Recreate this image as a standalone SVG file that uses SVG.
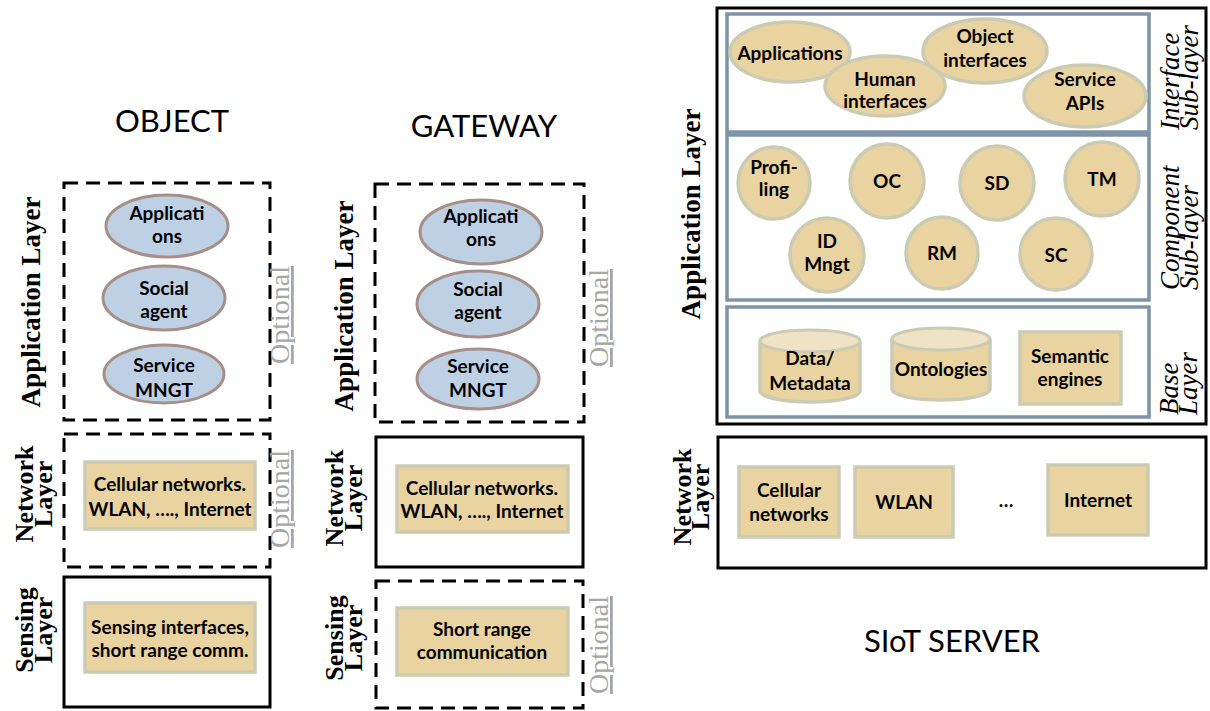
<svg xmlns="http://www.w3.org/2000/svg" width="1210" height="711" viewBox="0 0 1210 711">
<style>
.title{font-family:Lato,"Liberation Sans",sans-serif;font-size:31px;fill:#000;text-anchor:middle}
.lbl{font-family:Lato,"Liberation Sans",sans-serif;font-weight:bold;font-size:19px;fill:#000;text-anchor:middle}
.vl{font-family:"Liberation Serif",serif;font-weight:bold;font-size:27px;fill:#000;text-anchor:middle}
.vl2{font-family:"Liberation Serif",serif;font-weight:bold;font-size:26px;fill:#000;text-anchor:middle}
.it{font-family:"Liberation Serif",serif;font-style:italic;font-size:27px;fill:#000;text-anchor:start}
.opt{font-family:"Liberation Serif",serif;font-size:28px;fill:#a6a6a6;text-anchor:middle;text-decoration:underline}
.dash{fill:none;stroke:#000;stroke-width:3;stroke-dasharray:14 8}
.solid{fill:none;stroke:#000;stroke-width:3}
.sub{fill:none;stroke:#7d93a8;stroke-width:3.5}
.tan{fill:#e8d3a1;stroke:#cbcbb3;stroke-width:3.5}
.tantop{fill:#f0e2c4;stroke:#cbcbb3;stroke-width:3}
.blue{fill:#bdd0e4;stroke:#a58f88;stroke-width:3}
</style>

<g id="titles">
<text class="title" x="172" y="132">OBJECT</text>
<text class="title" x="484" y="137">GATEWAY</text>
<text class="title" x="952" y="652">SIoT SERVER</text>
</g>

<!-- OBJECT column -->
<g id="obj-app-layer">
<rect class="dash" x="64" y="183" width="206" height="237"/>
<text class="vl" transform="translate(40,302) rotate(-90)">Application Layer</text>
<text class="opt" transform="translate(289,315) rotate(-90)">Optional</text>
</g>
<g id="obj-applications">
<ellipse class="blue" cx="167" cy="226" rx="61" ry="31"/>
<text class="lbl" x="167" y="220">Applicati</text>
<text class="lbl" x="167" y="243">ons</text>
</g>
<g id="obj-social-agent">
<ellipse class="blue" cx="164" cy="298" rx="61" ry="32"/>
<text class="lbl" x="164" y="295">Social</text>
<text class="lbl" x="164" y="318">agent</text>
</g>
<g id="obj-service-mngt">
<ellipse class="blue" cx="164" cy="374" rx="60" ry="29"/>
<text class="lbl" x="164" y="372">Service</text>
<text class="lbl" x="164" y="397">MNGT</text>
</g>
<g id="obj-network-layer">
<rect class="dash" x="64" y="434" width="206" height="133"/>
<text class="vl2" transform="translate(33,494) rotate(-90)">Network</text>
<text class="vl2" transform="translate(52,494) rotate(-90)">Layer</text>
<text class="opt" transform="translate(289,499) rotate(-90)">Optional</text>
<rect class="tan" x="85" y="462" width="170" height="67"/>
<text class="lbl" x="170" y="491">Cellular networks.</text>
<text class="lbl" x="170" y="516">WLAN, …., Internet</text>
</g>
<g id="obj-sensing-layer">
<rect class="solid" x="64" y="577" width="206" height="130"/>
<text class="vl2" transform="translate(33,630) rotate(-90)">Sensing</text>
<text class="vl2" transform="translate(52,630) rotate(-90)">Layer</text>
<rect class="tan" x="85" y="603" width="170" height="69"/>
<text class="lbl" x="170" y="634">Sensing interfaces,</text>
<text class="lbl" x="170" y="657">short range comm.</text>
</g>

<!-- GATEWAY column -->
<g id="gw-app-layer">
<rect class="dash" x="375" y="184" width="209" height="238"/>
<text class="vl" transform="translate(353,306) rotate(-90)">Application Layer</text>
<text class="opt" transform="translate(608,318) rotate(-90)">Optional</text>
</g>
<g id="gw-applications">
<ellipse class="blue" cx="481" cy="232" rx="61" ry="32"/>
<text class="lbl" x="481" y="223">Applicati</text>
<text class="lbl" x="481" y="246">ons</text>
</g>
<g id="gw-social-agent">
<ellipse class="blue" cx="478" cy="304" rx="61" ry="33"/>
<text class="lbl" x="478" y="296">Social</text>
<text class="lbl" x="478" y="319">agent</text>
</g>
<g id="gw-service-mngt">
<ellipse class="blue" cx="478" cy="379" rx="61" ry="30"/>
<text class="lbl" x="478" y="373">Service</text>
<text class="lbl" x="478" y="397">MNGT</text>
</g>
<g id="gw-network-layer">
<rect class="solid" x="376" y="437" width="207" height="130"/>
<text class="vl2" transform="translate(343,498) rotate(-90)">Network</text>
<text class="vl2" transform="translate(362,498) rotate(-90)">Layer</text>
<rect class="tan" x="397" y="466" width="171" height="66"/>
<text class="lbl" x="482" y="495">Cellular networks.</text>
<text class="lbl" x="482" y="518">WLAN, …., Internet</text>
</g>
<g id="gw-sensing-layer">
<rect class="dash" x="376" y="581" width="207" height="127"/>
<text class="vl2" transform="translate(343,638) rotate(-90)">Sensing</text>
<text class="vl2" transform="translate(362,638) rotate(-90)">Layer</text>
<text class="opt" transform="translate(608,645) rotate(-90)">Optional</text>
<rect class="tan" x="397" y="608" width="171" height="67"/>
<text class="lbl" x="482" y="636">Short range</text>
<text class="lbl" x="482" y="659">communication</text>
</g>

<!-- SIoT SERVER -->
<g id="srv-app-layer">
<rect class="solid" x="717" y="8" width="489" height="416"/>
<text class="vl" transform="translate(700,214) rotate(-90)">Application Layer</text>
</g>
<g id="srv-interface-sublayer">
<rect class="sub" x="727" y="14" width="422" height="118"/>
<text class="it" transform="translate(1179,130) rotate(-90)">Interface</text>
<text class="it" transform="translate(1198,130) rotate(-90)">Sub-layer</text>
</g>
<g id="srv-applications">
<ellipse class="tan" cx="790" cy="52" rx="60" ry="30"/>
<text class="lbl" x="790" y="60">Applications</text>
</g>
<g id="srv-human-interfaces">
<ellipse class="tan" cx="885" cy="86" rx="60" ry="30"/>
<text class="lbl" x="885" y="86">Human</text>
<text class="lbl" x="885" y="108">interfaces</text>
</g>
<g id="srv-object-interfaces">
<ellipse class="tan" cx="985" cy="51" rx="62" ry="32"/>
<text class="lbl" x="985" y="43">Object</text>
<text class="lbl" x="985" y="67">interfaces</text>
</g>
<g id="srv-service-apis">
<ellipse class="tan" cx="1085" cy="96" rx="61" ry="31"/>
<text class="lbl" x="1085" y="86">Service</text>
<text class="lbl" x="1085" y="110">APIs</text>
</g>

<g id="srv-component-sublayer">
<rect class="sub" x="727" y="135" width="422" height="165"/>
<text class="it" transform="translate(1179,290) rotate(-90)">Component</text>
<text class="it" transform="translate(1198,290) rotate(-90)">Sub-layer</text>
</g>
<g id="srv-profiling">
<circle class="tan" cx="774" cy="183" r="36"/>
<text class="lbl" x="774" y="174">Profi-</text>
<text class="lbl" x="774" y="196">ling</text>
</g>
<g id="srv-oc">
<circle class="tan" cx="887" cy="181" r="37"/>
<text class="lbl" x="887" y="188">OC</text>
</g>
<g id="srv-sd">
<circle class="tan" cx="997" cy="183" r="37"/>
<text class="lbl" x="997" y="190">SD</text>
</g>
<g id="srv-tm">
<circle class="tan" cx="1102" cy="179" r="37"/>
<text class="lbl" x="1102" y="186">TM</text>
</g>
<g id="srv-id-mngt">
<circle class="tan" cx="827" cy="255" r="37"/>
<text class="lbl" x="827" y="248">ID</text>
<text class="lbl" x="827" y="271">Mngt</text>
</g>
<g id="srv-rm">
<circle class="tan" cx="942" cy="253" r="36"/>
<text class="lbl" x="942" y="260">RM</text>
</g>
<g id="srv-sc">
<circle class="tan" cx="1056" cy="254" r="36"/>
<text class="lbl" x="1056" y="262">SC</text>
</g>

<g id="srv-base-layer">
<rect class="sub" x="727" y="307" width="422" height="110"/>
<text class="it" transform="translate(1178,415) rotate(-90)">Base</text>
<text class="it" transform="translate(1197,415) rotate(-90)">Layer</text>
</g>
<g id="srv-data-metadata">
<path class="tan" d="M760,341 V391 A50,11 0 0 0 860,391 V341"/>
<ellipse class="tantop" cx="810" cy="341" rx="50" ry="11"/>
<text class="lbl" x="810" y="365">Data/</text>
<text class="lbl" x="810" y="390">Metadata</text>
</g>
<g id="srv-ontologies">
<path class="tan" d="M892,339 V389 A49,11 0 0 0 990,389 V339"/>
<ellipse class="tantop" cx="941" cy="339" rx="49" ry="11"/>
<text class="lbl" x="941" y="376">Ontologies</text>
</g>
<g id="srv-semantic-engines">
<rect class="tan" x="1020" y="332" width="101" height="72"/>
<text class="lbl" x="1070" y="363">Semantic</text>
<text class="lbl" x="1070" y="386">engines</text>
</g>

<g id="srv-network-layer">
<rect class="solid" x="718" y="437" width="488" height="131"/>
<text class="vl2" transform="translate(691,497) rotate(-90)">Network</text>
<text class="vl2" transform="translate(709,497) rotate(-90)">Layer</text>
<text class="lbl" x="1006" y="507">…</text>
</g>
<g id="srv-cellular">
<rect class="tan" x="739" y="467" width="100" height="70"/>
<text class="lbl" x="789" y="497">Cellular</text>
<text class="lbl" x="789" y="521">networks</text>
</g>
<g id="srv-wlan">
<rect class="tan" x="855" y="467" width="98" height="70"/>
<text class="lbl" x="904" y="509">WLAN</text>
</g>
<g id="srv-internet">
<rect class="tan" x="1048" y="465" width="100" height="70"/>
<text class="lbl" x="1098" y="507">Internet</text>
</g>

<g id="connectors"></g>
</svg>
